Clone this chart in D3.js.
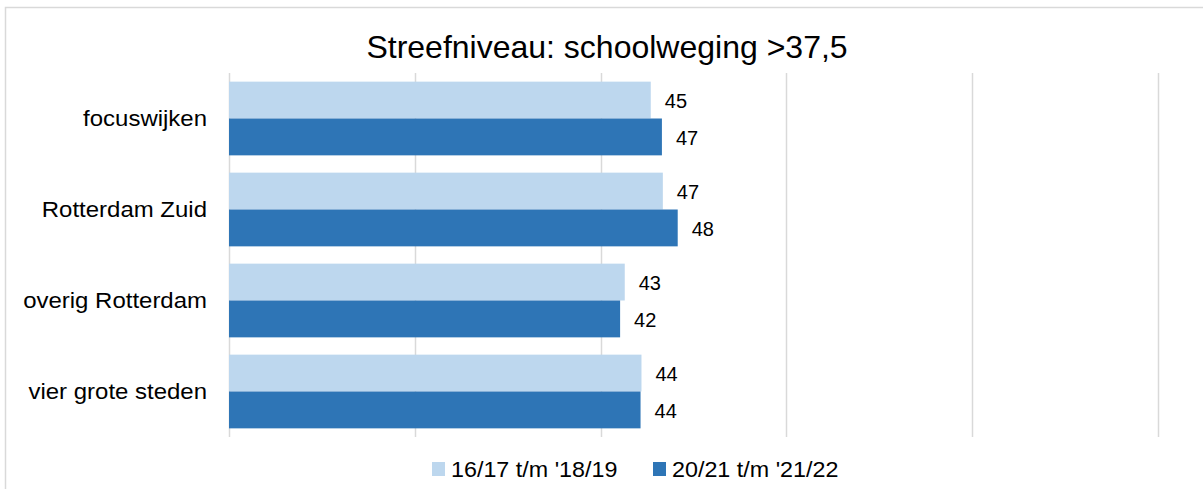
<!DOCTYPE html>
<html>
<head>
<meta charset="utf-8">
<script src="https://cdn.jsdelivr.net/npm/d3@7"></script>
<style>
body { margin: 0; background: #fff; }
text { font-family: "Liberation Sans", Arial, sans-serif; fill: #000; }
</style>
</head>
<body>
<svg id="chart" width="1203" height="489"></svg>
<script>
// data
let categories = ["focuswijken", "Rotterdam Zuid", "overig Rotterdam", "vier grote steden"];
let seriesNames = ["16/17 t/m '18/19", "20/21 t/m '21/22"];
let seriesOld = [45.4, 46.7, 42.6, 44.4];
let seriesNew = [46.6, 48.3, 42.1, 44.3];
let xTicks = [0, 20, 40, 60, 80, 100];
let colors = ["#BDD7EE", "#2E75B6"];

let width = 1203, height = 489;
let svg = d3.select("#chart");

// frame
svg.append("rect")
	.attr("x", 5.5).attr("y", 7.5)
	.attr("width", width + 10).attr("height", height + 10)
	.attr("fill", "none")
	.attr("stroke", "#d9d9d9")
	.attr("stroke-width", 1.5);

let x = d3.scaleLinear().domain([0, 100]).range([229, 1158]);
let y = d3.scaleBand().domain(categories).range([73, 437]).paddingInner(0.19).paddingOuter(0.095);
let ySub = d3.scaleBand().domain([0, 1]).range([0, y.bandwidth()]);

// gridlines
svg.append("g")
	.selectAll("line")
	.data(xTicks)
	.enter().append("line")
	.attr("x1", d => Math.round(x(d)) + 0.5)
	.attr("x2", d => Math.round(x(d)) + 0.5)
	.attr("y1", 73)
	.attr("y2", 437)
	.attr("stroke", "#d9d9d9")
	.attr("stroke-width", 1.5);

let rows = categories.map((c, i) => ({cat: c, vals: [seriesOld[i], seriesNew[i]]}));

let groups = svg.append("g")
	.selectAll("g")
	.data(rows)
	.enter().append("g")
	.attr("transform", d => "translate(0," + y(d.cat) + ")");

groups.selectAll("rect")
	.data(d => d.vals.map((v, k) => ({v: v, k: k})))
	.enter().append("rect")
	.attr("x", x(0))
	.attr("y", d => ySub(d.k))
	.attr("width", d => x(d.v) - x(0))
	.attr("height", ySub.bandwidth())
	.attr("fill", d => colors[d.k]);

groups.selectAll("text")
	.data(d => d.vals.map((v, k) => ({v: v, k: k})))
	.enter().append("text")
	.attr("x", d => x(d.v) + 14)
	.attr("y", d => ySub(d.k) + ySub.bandwidth() / 2)
	.attr("dy", "0.4em")
	.style("font-size", "20px")
	.text(d => d3.format(".0f")(d.v));

// category labels (reference text is a bit wider than it is tall)
svg.append("g")
	.selectAll("text")
	.data(categories)
	.enter().append("text")
	.attr("transform", d => "translate(207," + (y(d) + y.bandwidth() / 2) + ") scale(1.09,1)")
	.attr("dy", "0.36em")
	.style("text-anchor", "end")
	.style("font-size", "22px")
	.text(d => d);

// title
svg.append("text")
	.attr("x", 607)
	.attr("y", 58)
	.style("text-anchor", "middle")
	.style("font-size", "32px")
	.text("Streefniveau: schoolweging >37,5");

// legend
let legendX = [432, 653];
let legend = svg.append("g")
	.selectAll("g")
	.data(seriesNames)
	.enter().append("g")
	.attr("transform", (d, i) => "translate(" + legendX[i] + ",462)");

legend.append("rect")
	.attr("width", 13).attr("height", 14)
	.attr("fill", (d, i) => colors[i]);

legend.append("text")
	.attr("transform", "translate(19,7) scale(1.06,1)")
	.attr("dy", "0.36em")
	.style("font-size", "22px")
	.text(d => d);
</script>
</body>
</html>
